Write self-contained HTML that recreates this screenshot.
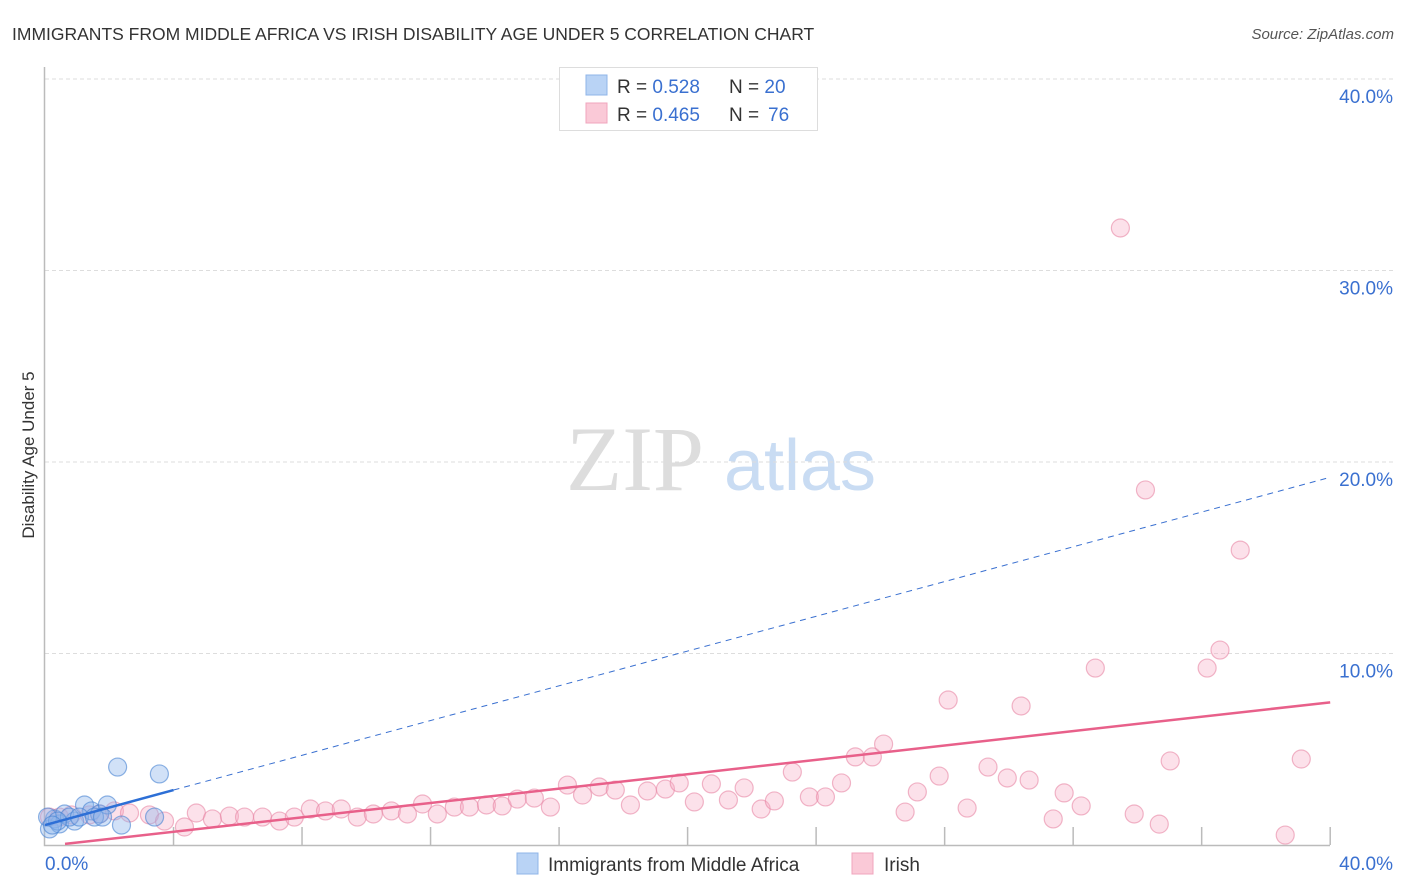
<!DOCTYPE html>
<html><head><meta charset="utf-8"><style>
body{margin:0;background:#fff;font-family:"Liberation Sans",sans-serif;}
svg{display:block}
</style></head><body>
<svg id="chart" width="1406" height="892" xmlns="http://www.w3.org/2000/svg">
<text x="12" y="40" font-size="17.5" fill="#333">IMMIGRANTS FROM MIDDLE AFRICA VS IRISH DISABILITY AGE UNDER 5 CORRELATION CHART</text>
<text x="1394" y="39" font-size="15" fill="#555" font-style="italic" text-anchor="end">Source: ZipAtlas.com</text>
<g>
<text x="635" y="490" font-size="92" fill="#ddd" font-family="Liberation Serif,serif" text-anchor="middle">ZIP</text>
<text x="800" y="490" font-size="72" fill="#c9dcf3" text-anchor="middle">atlas</text>
</g>
<g id="grid"></g>
<g id="axes"></g>
<g id="marks"></g>
<text transform="translate(34,455) rotate(-90)" font-size="17" fill="#333" text-anchor="middle">Disability Age Under 5</text>
<g>
<rect x="559.5" y="67.5" width="258" height="63" fill="#fff" stroke="#ddd"/>
<rect x="586" y="75" width="21" height="20" fill="#b9d3f5" stroke="#8fb5e8"/>
<rect x="586" y="103" width="21" height="20" fill="#fac9d7" stroke="#f0a5bd"/>
<text x="617" y="93" font-size="19" fill="#333">R = <tspan fill="#3a70d0">0.528</tspan><tspan x="729">N = </tspan><tspan fill="#3a70d0">20</tspan></text>
<text x="617" y="121" font-size="19" fill="#333">R = <tspan fill="#3a70d0">0.465</tspan><tspan x="729">N = </tspan><tspan x="768" fill="#3a70d0">76</tspan></text>
</g>
<g>
<rect x="517" y="853" width="21" height="21" fill="#b9d3f5" stroke="#8fb5e8"/>
<text x="548" y="871" font-size="19" fill="#333">Immigrants from Middle Africa</text>
<rect x="852" y="853" width="21" height="21" fill="#fac9d7" stroke="#f0a5bd"/>
<text x="884" y="871" font-size="19" fill="#333">Irish</text>
</g>
</svg>
<script>
const yTicks=[10,20,30,40];
const yTickLabels=["10.0%","20.0%","30.0%","40.0%"];
const xTicks=[4,8,12,16,20,24,28,32,36,40];
const blueX=[0.14,0.30,0.45,0.61,0.92,1.23,1.45,1.70,1.94,2.26,2.38,3.41,3.56,0.08,0.76,1.07,1.54,1.79,0.39,0.23];
const blueY=[0.84,1.36,1.10,1.62,1.25,2.09,1.78,1.62,2.09,4.07,1.04,1.46,3.71,1.46,1.46,1.46,1.46,1.46,1.25,1.04];
const pinkX=[0.14,0.45,0.82,1.38,1.70,2.16,2.63,3.25,3.72,4.34,4.71,5.21,5.74,6.21,6.77,7.30,7.76,8.26,8.73,9.22,9.72,10.22,10.78,11.28,11.75,12.21,12.74,13.21,13.74,14.23,14.70,15.23,15.73,16.26,16.73,17.25,17.75,18.22,18.75,19.31,19.74,20.21,20.74,21.27,21.76,22.29,22.70,23.26,23.79,24.29,24.79,25.22,25.75,26.10,26.77,27.15,27.83,28.11,28.70,29.35,29.95,30.38,30.63,31.38,31.72,32.25,32.69,33.47,33.90,34.25,34.68,35.02,36.17,36.57,37.20,38.60,39.10];
const pinkY=[1.46,1.46,1.57,1.57,1.62,1.78,1.67,1.57,1.25,0.94,1.67,1.36,1.51,1.46,1.46,1.25,1.46,1.88,1.78,1.88,1.46,1.62,1.78,1.62,2.14,1.62,1.98,1.98,2.09,2.04,2.40,2.45,1.98,3.13,2.61,3.03,2.87,2.09,2.82,2.92,3.24,2.25,3.19,2.35,2.98,1.88,2.30,3.81,2.51,2.51,3.24,4.60,4.60,5.27,1.72,2.77,3.60,7.57,1.93,4.07,3.50,7.26,3.39,1.36,2.72,2.04,9.24,32.22,1.62,18.54,1.09,4.39,9.24,10.18,15.40,0.52,4.49];
const blueTrend=[0,1.04,4,2.87,40,19.2];
const pinkTrend=[0,0.0,40,7.45];
const NS="http://www.w3.org/2000/svg";
const sx=v=>45+v*32.13, sy=v=>845-v*19.15;
function mk(parent,tag,attrs){const e=document.createElementNS(NS,tag);for(const k in attrs)e.setAttribute(k,attrs[k]);document.getElementById(parent).appendChild(e);return e;}
yTicks.forEach((t,i)=>{
 const g=mk("grid","line",{x1:45,x2:1393,y1:sy(t),y2:sy(t),stroke:"#ddd","stroke-dasharray":"4,3"});
 
 
 const l=mk("grid","text",{x:1393,y:sy(t)+24,"font-size":19,fill:"#3a70d0","text-anchor":"end"});
 l.textContent=yTickLabels[i];
 
 
});
const ax=mk("axes","path",{d:`M44.5 67V845.5H1330`,fill:"none",stroke:"#bbb","stroke-width":1.5});


xTicks.forEach(t=>{
 const k=mk("axes","line",{x1:sx(t),x2:sx(t),y1:827,y2:845,stroke:"#bbb","stroke-width":1.5});
 
 
});
const x0=mk("axes","text",{x:45,y:870,"font-size":19,fill:"#3a70d0"});x0.textContent="0.0%";


const x1=mk("axes","text",{x:1393,y:870,"font-size":19,fill:"#3a70d0","text-anchor":"end"});x1.textContent="40.0%";


pinkX.forEach((x,i)=>{
 const c=mk("marks","circle",{cx:sx(x),cy:sy(pinkY[i]),r:9,fill:"rgba(246,170,195,0.35)",stroke:"rgba(232,135,165,0.6)","stroke-width":1.2});
 
 
});
blueX.forEach((x,i)=>{
 const c=mk("marks","circle",{cx:sx(x),cy:sy(blueY[i]),r:9,fill:"rgba(140,180,235,0.4)",stroke:"rgba(70,130,210,0.6)","stroke-width":1.2});
 
 
});
const bd=mk("marks","line",{x1:sx(blueTrend[2]),y1:sy(blueTrend[3]),x2:sx(blueTrend[4]),y2:sy(blueTrend[5]),stroke:"#3a70d0","stroke-width":1,"stroke-dasharray":"6,5"});


const bs=mk("marks","line",{x1:sx(blueTrend[0]),y1:sy(blueTrend[1]),x2:sx(blueTrend[2]),y2:sy(blueTrend[3]),stroke:"#2d6fd6","stroke-width":2.5});


const pl=mk("marks","line",{x1:sx(pinkTrend[0])+20,y1:sy(pinkTrend[1]+0.093*0.62),x2:sx(pinkTrend[2]),y2:sy(pinkTrend[3]),stroke:"#e8608a","stroke-width":2.5});


</script>
</body></html>
